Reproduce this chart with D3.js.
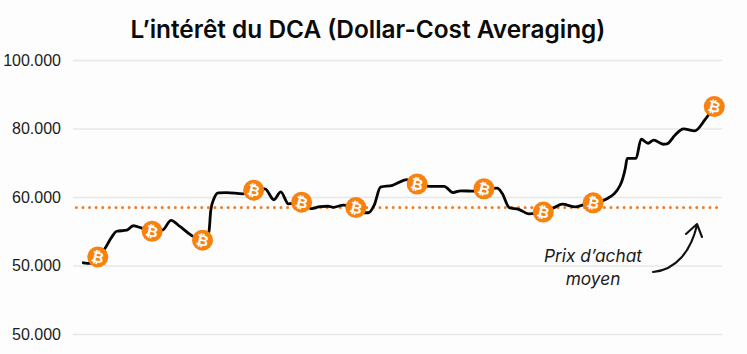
<!DOCTYPE html>
<html lang="fr">
<head>
    <meta charset="UTF-8">
    <title>L'intérêt du DCA</title>
    <script src="https://d3js.org/d3.v7.min.js"></script>
    <style>
        html, body { margin: 0; padding: 0; background: #fdfdfd; }
        svg { display: block; font-family: Inter, "Noto Sans", sans-serif; }
        .title { font-size: 24.4px; font-weight: 600; fill: #0b0b0b; text-anchor: middle; }
        .y-axis .domain { display: none; }
        .y-axis line { stroke: #e7e7e7; stroke-width: 1.5; }
        .y-axis text { font-size: 16px; fill: #1c1c1c; }
        .note { font-size: 17.3px; font-style: italic; fill: #1a1a1a; text-anchor: middle; }
        .coin-glyph { font-family: "DejaVu Sans", sans-serif; font-size: 15px; font-weight: bold; fill: #fff; text-anchor: middle; }
    </style>
</head>
<body>
    <svg width="747" height="354"></svg>
    <script>
        // the source picture really does print 50.000 twice
        const tickValues = [100000, 80000, 60000, 40000, 20000];
        const tickLabels = ["100.000", "80.000", "60.000", "50.000", "50.000"];

        const steps = [0, 1.1, 2.3, 3.4, 4.5, 5.3, 6.9, 7.9, 9.3, 10.9, 12.6, 13.9, 15.3, 17.4, 18.9, 19.9, 20.2, 20.7, 21.4, 22.7,
            25.3, 27, 28.8, 30.2, 31.3, 32.5, 34.6, 36.2, 37.5, 38.8, 39.6, 41.2, 43.2, 44.6, 45.2, 46.1, 47.1, 49, 51.3, 52.9,
            54.8, 57.2, 58.6, 59.8, 61.9, 63.5, 65.6, 66.4, 67.5, 69, 70.6, 72.9, 74.6, 75.9, 78, 79.1, 80.8, 83, 85.1, 85.9,
            86.2, 87.6, 88.4, 89.5, 90.4, 91.9, 92.5, 93.8, 95.1, 96.9, 98.5, 100];
        const prices = [40800, 40600, 42500, 44900, 48300, 50000, 50300, 51600, 50900, 50000, 50400, 53200, 51400, 48500, 47400, 49800, 56100, 59500, 61200, 61300,
            60900, 62000, 62400, 59200, 61500, 58000, 58500, 56600, 57200, 57300, 57000, 57600, 56900, 55400, 55400, 57600, 62900, 63400, 65100, 63800,
            63100, 63100, 61300, 61800, 61700, 62400, 62600, 61000, 56900, 56400, 55100, 55600, 56900, 57900, 57100, 57600, 58300, 59500, 63500, 68400,
            71300, 71300, 76900, 75700, 76600, 75400, 75500, 78100, 79900, 79300, 82500, 86400];

        const buySteps = [2.3, 10.9, 18.9, 27, 34.6, 43.2, 52.9, 63.5, 72.9, 80.8, 100];
        const averagePrice = 56900;
        const averageSpan = [-1.1, 100.4];

        const svg = d3.select("svg");
        const orange = "#f7820f";

        const x = d3.scaleLinear().domain([0, 100]).range([83.3, 714.3]);
        const y = d3.scaleLinear().domain([20000, 100000]).range([334, 60]);

        svg.append("text")
            .attr("class", "title")
            .attr("x", 368)
            .attr("y", 38)
            .text("L’intérêt du DCA (Dollar-Cost Averaging)");

        svg.append("g")
            .attr("class", "y-axis")
            .attr("transform", "translate(73,0)")
            .call(d3.axisLeft(y)
                .tickValues(tickValues)
                .tickSize(-649)
                .tickPadding(12)
                .tickFormat((d, i) => tickLabels[i]));

        // average purchase price
        svg.append("line")
            .attr("x1", x(averageSpan[0]))
            .attr("x2", x(averageSpan[1]))
            .attr("y1", y(averagePrice))
            .attr("y2", y(averagePrice))
            .attr("stroke", "#f47b20")
            .attr("stroke-width", 3)
            .attr("stroke-linecap", "round")
            .attr("stroke-dasharray", "0 6.6");

        const line = d3.line()
            .x((d, i) => x(steps[i]))
            .y(d => y(d))
            .curve(d3.curveMonotoneX);

        svg.append("path")
            .datum(prices)
            .attr("d", line)
            .attr("fill", "none")
            .attr("stroke", "#050505")
            .attr("stroke-width", 2.8)
            .attr("stroke-linecap", "round")
            .attr("stroke-linejoin", "round");

        const coins = svg.selectAll(".coin")
            .data(buySteps)
            .enter()
            .append("g")
            .attr("class", "coin")
            .attr("transform", d => `translate(${x(d)},${y(prices[steps.indexOf(d)])})`);

        coins.append("circle")
            .attr("r", 10.5)
            .attr("fill", orange);

        coins.append("text")
            .attr("class", "coin-glyph")
            .attr("dy", "0.36em")
            .attr("transform", "rotate(14)")
            .text("₿");

        // annotation
        svg.append("text").attr("class", "note").attr("x", 593).attr("y", 262).text("Prix d’achat");
        svg.append("text").attr("class", "note").attr("x", 593).attr("y", 285).text("moyen");

        svg.append("path")
            .attr("d", "M653,272 C676,270 691,251 697,225 M686,234 L697,224 L702,237")
            .attr("fill", "none")
            .attr("stroke", "#111")
            .attr("stroke-width", 2.1)
            .attr("stroke-linecap", "round")
            .attr("stroke-linejoin", "round");
    </script>
</body>
</html>
